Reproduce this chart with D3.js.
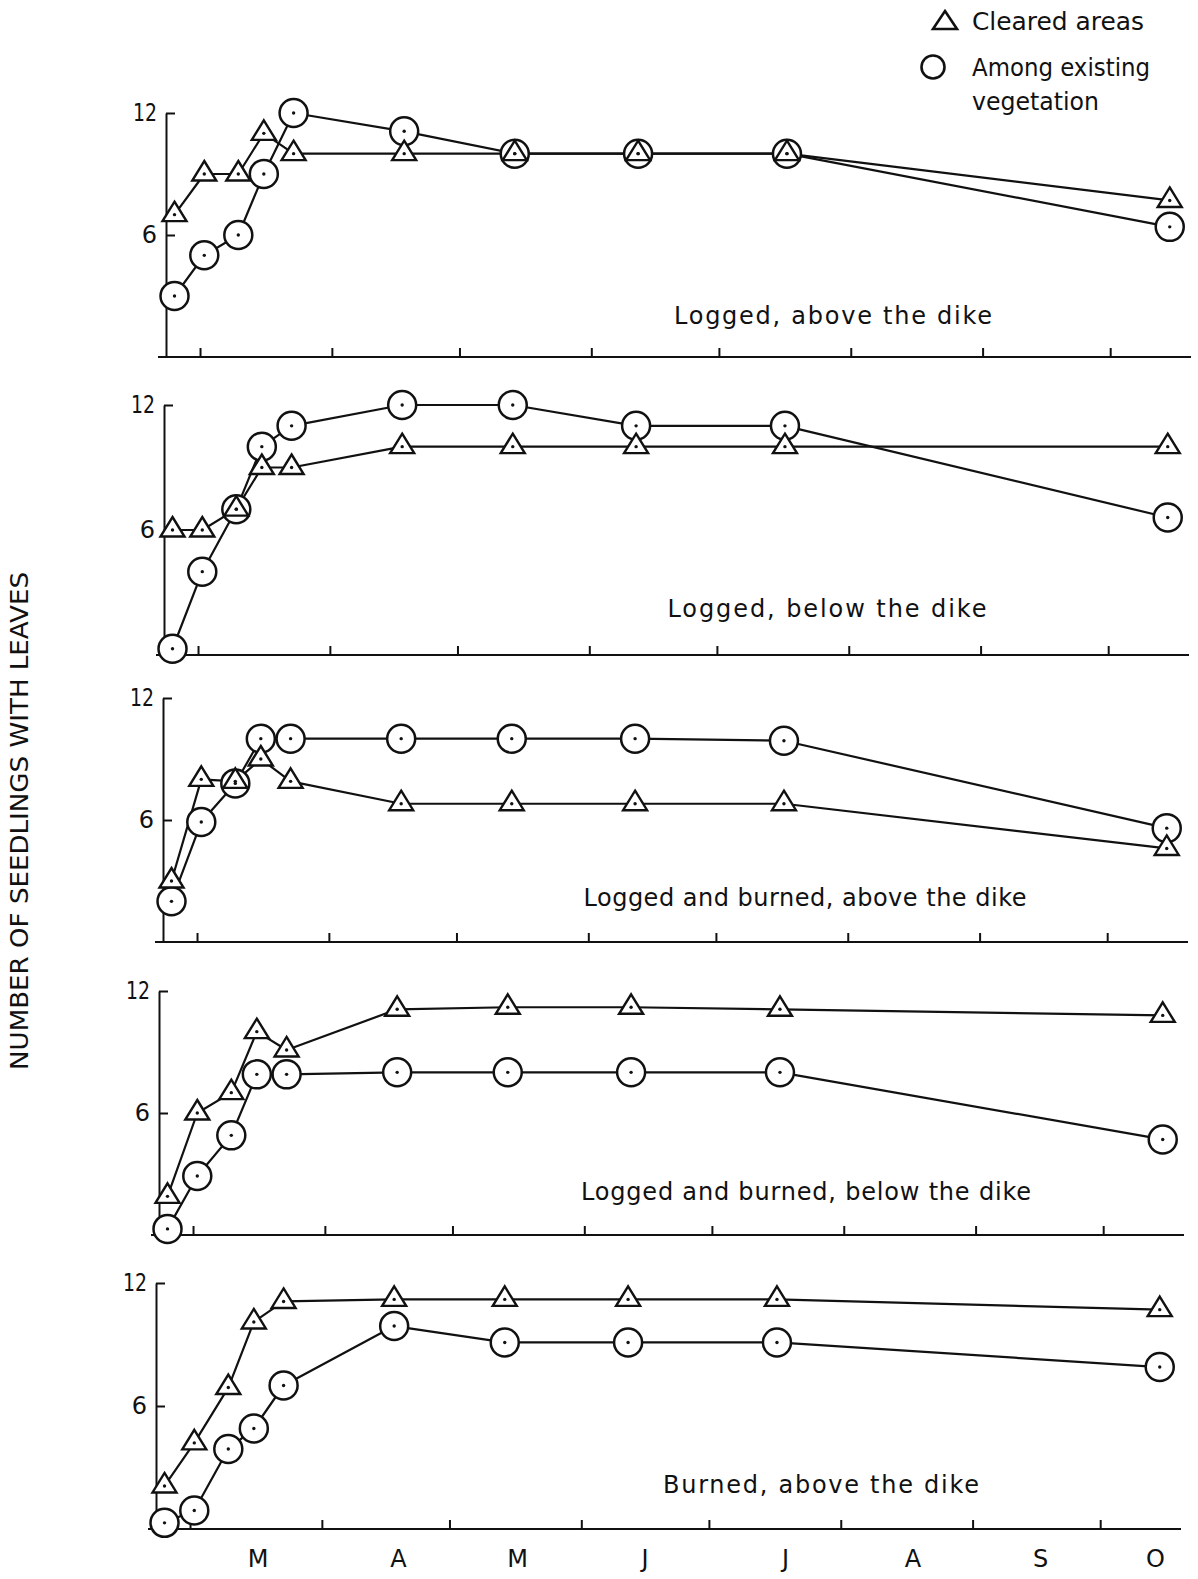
<!DOCTYPE html>
<html>
<head>
<meta charset="utf-8">
<script src="https://cdn.jsdelivr.net/npm/d3@7/dist/d3.min.js"></script>
<style>
  html, body { margin: 0; padding: 0; background: #fff; }
  svg { display: block; }
  text { font-family: "DejaVu Sans", "Liberation Sans", sans-serif; fill: #111; }
</style>
</head>
<body>
<div id="chart"></div>
<script>
// ---------------- DATA ----------------
const sampleDates = ["1963-02-23","1963-03-02","1963-03-10","1963-03-16","1963-03-23",
                     "1963-04-18","1963-05-14","1963-06-12","1963-07-17","1963-10-15"];

const panelTitles = [
  "Logged, above the dike",
  "Logged, below the dike",
  "Logged and burned, above the dike",
  "Logged and burned, below the dike",
  "Burned, above the dike"
];

// Cleared areas (triangles)
const clearedLoggedAbove       = [7, 9, 9, 11, 10, 10, 10, 10, 10, 7.7];
const clearedLoggedBelow       = [6, 6, 7, 9, 9, 10, 10, 10, 10, 10];
const clearedLoggedBurnedAbove = [3, 8, 7.9, 9, 7.9, 6.8, 6.8, 6.8, 6.8, 4.6];
const clearedLoggedBurnedBelow = [1.9, 6, 7, 10, 9.1, 11.1, 11.2, 11.2, 11.1, 10.8];
const clearedBurnedAbove       = [2.1, 4.2, 6.9, 10.1, 11.1, 11.2, 11.2, 11.2, 11.2, 10.7];

// Among existing vegetation (circles)
const amongLoggedAbove       = [3, 5, 6, 9, 12, 11.1, 10, 10, 10, 6.4];
const amongLoggedBelow       = [0.3, 4, 7, 10, 11, 12, 12, 11, 11, 6.6];
const amongLoggedBurnedAbove = [2, 5.9, 7.8, 10, 10, 10, 10, 10, 9.9, 5.6];
const amongLoggedBurnedBelow = [0.3, 2.9, 4.9, 7.9, 7.9, 8, 8, 8, 8, 4.7];
const amongBurnedAbove       = [0.3, 0.9, 3.9, 4.9, 7, 9.9, 9.1, 9.1, 9.1, 7.9];

const yTickValues = [6, 12];
const monthTickDates = ["1963-03-01","1963-04-01","1963-05-01","1963-06-01",
                        "1963-07-01","1963-08-01","1963-09-01","1963-10-01"];
const monthLabels = ["M","A","M","J","J","A","S","O"];
const monthLabelDates = ["1963-03-17","1963-04-19","1963-05-17","1963-06-16",
                         "1963-07-19","1963-08-18","1963-09-17","1963-10-14"];
const legendLabels = ["Cleared areas", "Among existing", "vegetation"];
const yAxisTitle = "NUMBER OF SEEDLINGS WITH LEAVES";
const xDomain = ["1963-02-21", "1963-10-20"];

// ---------------- LAYOUT ----------------
const W = 1198, H = 1579;
const parse = d3.timeParse("%Y-%m-%d");
const cleared = [clearedLoggedAbove, clearedLoggedBelow, clearedLoggedBurnedAbove, clearedLoggedBurnedBelow, clearedBurnedAbove];
const among = [amongLoggedAbove, amongLoggedBelow, amongLoggedBurnedAbove, amongLoggedBurnedBelow, amongBurnedAbove];

const panels = [
  { top: 113,  bottom: 357,  dx: 3,  capX: 833, capDy: -33 },
  { top: 405,  bottom: 655,  dx: 1,  capX: 827, capDy: -38 },
  { top: 698,  bottom: 942,  dx: 0,  capX: 805, capDy: -36 },
  { top: 991,  bottom: 1235, dx: -4, capX: 806, capDy: -35 },
  { top: 1283, bottom: 1529, dx: -7, capX: 821, capDy: -36 }
];
const capLengths = [318, 319, 443, 450, 316];

const x = d3.scaleTime()
  .domain(xDomain.map(parse))
  .range([163, 1188]);

const svg = d3.select("#chart").append("svg")
  .attr("width", W).attr("height", H)
  .attr("viewBox", `0 0 ${W} ${H}`);

svg.append("rect").attr("width", W).attr("height", H).attr("fill", "#fff");

const triPath = "M0,-13 L12,6.5 L-12,6.5 Z";
const ink = "#111";

panels.forEach((p, i) => {
  const y = d3.scaleLinear().domain([0, 12]).range([p.bottom, p.top]);
  const g = svg.append("g").attr("transform", `translate(${p.dx},0)`);

  // x baseline
  g.append("line")
    .attr("x1", x.range()[0] - 8).attr("x2", x.range()[1])
    .attr("y1", p.bottom).attr("y2", p.bottom)
    .attr("stroke", ink).attr("stroke-width", 2);

  // x ticks (month boundaries, pointing up)
  const xa = g.append("g").attr("transform", `translate(0,${p.bottom})`)
    .call(d3.axisBottom(x)
      .tickValues(monthTickDates.map(parse))
      .tickSize(-9).tickSizeOuter(0).tickFormat(""));
  xa.select(".domain").remove();
  xa.selectAll(".tick line").attr("stroke", ink).attr("stroke-width", 2);

  // y axis
  const ya = g.append("g").attr("transform", `translate(${x.range()[0]},0)`)
    .call(d3.axisLeft(y).tickValues(yTickValues)
      .tickSize(-9).tickSizeOuter(0).tickPadding(9));
  ya.attr("font-size", null).attr("font-family", null);
  ya.select(".domain").attr("stroke", ink).attr("stroke-width", 2);
  ya.selectAll(".tick line").attr("stroke", ink).attr("stroke-width", 2);
  ya.selectAll(".tick text")
    .style("font-size", "24px")
    .style("font-family", "DejaVu Sans, sans-serif")
    .attr("fill", ink)
    .each(function(d) {
      if (String(d).length > 1) d3.select(this).attr("textLength", 24).attr("lengthAdjust", "spacingAndGlyphs");
    });

  const tri = sampleDates.map((d, k) => ({ date: parse(d), v: cleared[i][k] }));
  const cir = sampleDates.map((d, k) => ({ date: parse(d), v: among[i][k] }));
  const line = d3.line().x(d => x(d.date)).y(d => y(d.v));

  [tri, cir].forEach(s => {
    g.append("path").attr("d", line(s))
      .attr("fill", "none").attr("stroke", ink).attr("stroke-width", 2.2)
      .attr("stroke-linejoin", "round");
  });

  g.selectAll(null).data(cir).enter().append("circle")
    .attr("cx", d => x(d.date)).attr("cy", d => y(d.v)).attr("r", 14)
    .attr("fill", "#fff").attr("stroke", ink).attr("stroke-width", 2.5);

  g.selectAll(null).data(tri).enter().append("path")
    .attr("d", triPath)
    .attr("transform", d => `translate(${x(d.date)},${y(d.v)})`)
    .attr("fill", "#fff").attr("stroke", ink).attr("stroke-width", 2.4)
    .attr("stroke-linejoin", "miter");

  g.selectAll(null).data(cir.concat(tri)).enter().append("circle")
    .attr("cx", d => x(d.date)).attr("cy", d => y(d.v)).attr("r", 1.7)
    .attr("fill", ink);

  // caption
  svg.append("text")
    .attr("x", p.capX).attr("y", p.bottom + p.capDy)
    .attr("text-anchor", "middle")
    .attr("font-size", 24)
    .attr("textLength", capLengths[i])
    .text(panelTitles[i]);
});

// month labels (bottom)
const last = panels[panels.length - 1];
svg.append("g").selectAll("text").data(monthLabelDates).enter().append("text")
  .attr("x", d => x(parse(d)) + last.dx)
  .attr("y", 1567)
  .attr("text-anchor", "middle")
  .attr("font-size", 24)
  .text((d, i) => monthLabels[i]);

// y-axis title
svg.append("text")
  .attr("transform", "translate(28,821) rotate(-90)")
  .attr("text-anchor", "middle")
  .attr("font-size", 24)
  .attr("textLength", 498)
  .attr("lengthAdjust", "spacingAndGlyphs")
  .text(yAxisTitle);

// legend
const lg = svg.append("g");
lg.append("path").attr("d", "M0,-10 L12,8 L-12,8 Z")
  .attr("transform", "translate(945,21)")
  .attr("fill", "#fff").attr("stroke", ink).attr("stroke-width", 2.6);
lg.append("circle").attr("cx", 933).attr("cy", 67).attr("r", 11.5)
  .attr("fill", "#fff").attr("stroke", ink).attr("stroke-width", 2.6);
const legendY = [30, 76, 110];
const legendLen = [172, 178, 127];
legendLabels.forEach((t, i) => {
  lg.append("text").attr("x", 972).attr("y", legendY[i])
    .attr("font-size", 24)
    .attr("textLength", legendLen[i]).attr("lengthAdjust", "spacingAndGlyphs")
    .text(t);
});
</script>
</body>
</html>
